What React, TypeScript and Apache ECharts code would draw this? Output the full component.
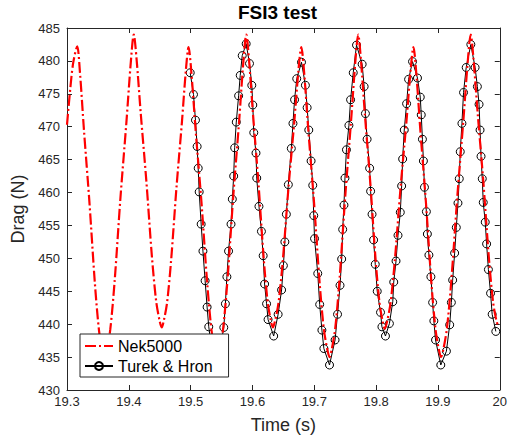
import React, { useEffect, useRef } from 'react';
import * as echarts from 'echarts';

// Nek5000 drag curve (time s, drag N)
const nekTime = [
  19.300, 19.305, 19.310, 19.3165, 19.3209, 19.3275, 19.3363, 19.3451, 19.3517, 19.3570,
  19.3605, 19.3643, 19.3700, 19.3771, 19.3866, 19.3961, 19.4033, 19.4080, 19.4125, 19.4193,
  19.4283, 19.4374, 19.4442, 19.4496, 19.4532, 19.4567, 19.4619, 19.4684, 19.4771, 19.4858,
  19.4923, 19.4966, 19.5012, 19.5082, 19.5175, 19.5268, 19.5337, 19.5393, 19.5430, 19.5468,
  19.5524, 19.5595, 19.5689, 19.5783, 19.5853, 19.5900, 19.5943, 19.6008, 19.6094, 19.6180,
  19.6244, 19.6296, 19.6330, 19.6367, 19.6422, 19.6491, 19.6583, 19.6675, 19.6744, 19.6790,
  19.6836, 19.6904, 19.6995, 19.7086, 19.7155, 19.7210, 19.7246, 19.7283, 19.7339, 19.7408,
  19.7501, 19.7594, 19.7664, 19.7710, 19.7753, 19.7818, 19.7904, 19.7990, 19.8054, 19.8106,
  19.8140, 19.8177, 19.8233, 19.8302, 19.8395, 19.8488, 19.8558, 19.8604, 19.8649, 19.8716,
  19.8805, 19.8894, 19.8961, 19.9014, 19.9050, 19.9088, 19.9146, 19.9218, 19.9314, 19.9410,
  19.9482, 19.9530, 19.9575, 19.9643, 19.9733, 19.9823, 19.9890, 19.9944, 19.9980,
];
const nekDrag = [
  470.3, 475.5, 479.7, 482.2, 478.3, 469.4, 458.5, 446.2, 439.1, 436.0,
  434.8, 436.0, 439.2, 446.6, 459.4, 470.7, 479.9, 484.0, 480.3, 472.0,
  461.8, 450.2, 443.5, 440.6, 439.5, 440.6, 443.3, 449.7, 460.8, 470.6,
  478.6, 482.1, 478.2, 469.3, 458.5, 446.2, 439.1, 436.0, 434.8, 436.0,
  439.2, 446.6, 459.4, 470.7, 479.9, 484.0, 480.3, 472.0, 461.8, 450.2,
  443.5, 440.6, 439.5, 440.6, 443.3, 449.7, 460.8, 470.6, 478.6, 482.1,
  478.2, 469.4, 458.6, 446.3, 439.2, 436.2, 435.0, 436.2, 439.4, 446.8,
  459.5, 470.8, 479.9, 484.0, 480.3, 471.9, 461.7, 450.0, 443.3, 440.4,
  439.3, 440.4, 443.2, 449.6, 460.7, 470.5, 478.6, 482.1, 478.2, 469.4,
  458.6, 446.3, 439.2, 436.2, 435.0, 436.2, 439.4, 446.8, 459.5, 470.8,
  479.9, 484.0, 480.3, 472.0, 461.8, 450.2, 443.5, 440.6, 439.6,
];

// Turek & Hron reference points (time s, drag N)
const turekTime = [
  19.4993, 19.5046, 19.5078, 19.5105, 19.5122, 19.5138, 19.5170, 19.5199, 19.5234, 19.5266,
  19.5293, 19.5335, 19.5415, 19.5490, 19.5536, 19.5562, 19.5586, 19.5613, 19.5653, 19.5674,
  19.5696, 19.5712, 19.5738, 19.5776, 19.5802, 19.5834, 19.5898, 19.5952, 19.5989, 19.6005,
  19.6021, 19.6057, 19.6069, 19.6105, 19.6145, 19.6173, 19.6196, 19.6228, 19.6252, 19.6343,
  19.6415, 19.6471, 19.6500, 19.6524, 19.6548, 19.6580, 19.6628, 19.6655, 19.6681, 19.6716,
  19.6793, 19.6856, 19.6884, 19.6911, 19.6948, 19.6975, 19.6991, 19.7004, 19.7056, 19.7087,
  19.7123, 19.7155, 19.7246, 19.7336, 19.7376, 19.7416, 19.7443, 19.7459, 19.7480, 19.7496,
  19.7520, 19.7560, 19.7587, 19.7630, 19.7683, 19.7774, 19.7806, 19.7827, 19.7854, 19.7895,
  19.7911, 19.7934, 19.7959, 19.7986, 19.8018, 19.8071, 19.8094, 19.8151, 19.8215, 19.8269,
  19.8285, 19.8322, 19.8354, 19.8391, 19.8413, 19.8429, 19.8455, 19.8493, 19.8525, 19.8589,
  19.8669, 19.8714, 19.8730, 19.8749, 19.8765, 19.8782, 19.8813, 19.8829, 19.8854, 19.8886,
  19.8914, 19.8934, 19.8961, 19.9046, 19.9137, 19.9190, 19.9217, 19.9238, 19.9270, 19.9297,
  19.9324, 19.9345, 19.9361, 19.9388, 19.9414, 19.9457, 19.9532, 19.9601, 19.9638, 19.9665,
  19.9681, 19.9697, 19.9717, 19.9733, 19.9765, 19.9787, 19.9816, 19.9851, 19.9877, 19.9936,
];
const turekDrag = [
  478.2, 474.9, 471.0, 467.0, 463.7, 460.1, 455.2, 451.1, 446.6, 442.6,
  439.6, 436.6, 433.9, 437.0, 439.5, 443.1, 447.2, 451.1, 455.2, 459.0,
  462.5, 466.8, 470.7, 474.7, 477.8, 480.8, 482.6, 479.6, 476.3, 473.3,
  469.1, 466.0, 462.2, 457.9, 454.1, 450.4, 446.1, 443.1, 440.7, 438.2,
  441.5, 445.2, 448.9, 452.5, 456.7, 461.2, 466.7, 470.5, 474.1, 477.3,
  479.8, 476.3, 472.9, 469.5, 464.8, 461.1, 456.5, 453.0, 447.7, 443.0,
  439.1, 436.3, 433.8, 437.6, 441.5, 445.9, 449.9, 454.4, 458.1, 462.2,
  466.5, 470.2, 474.1, 478.2, 482.4, 479.5, 476.1, 472.0, 468.1, 463.7,
  460.2, 456.7, 452.8, 449.1, 445.0, 441.8, 439.6, 438.2, 440.1, 443.4,
  446.4, 449.6, 453.5, 457.0, 461.0, 465.1, 469.5, 473.5, 477.2, 479.9,
  477.4, 474.5, 471.8, 468.1, 464.8, 460.8, 457.1, 453.7, 450.5, 447.2,
  443.3, 440.5, 437.6, 433.8, 435.9, 439.9, 443.3, 446.7, 450.8, 454.7,
  458.4, 462.1, 466.2, 470.5, 475.2, 479.0, 482.5, 479.0, 476.1, 473.4,
  469.5, 465.5, 462.1, 458.5, 455.5, 452.2, 448.3, 444.7, 441.5, 438.9,
];

const seriesNames = ['Nek5000', 'Turek & Hron'];
const titleText = 'FSI3 test';
const xName = 'Time (s)';
const yName = 'Drag (N)';

const FONT = '"Liberation Sans", Arial, Helvetica, sans-serif';
const AX = '#262626';

function fmtX(v: number) {
  const s = v.toFixed(1);
  return s.endsWith('.0') ? s.slice(0, -2) : s;
}

export default function App() {
  const ref = useRef<HTMLDivElement>(null);
  useEffect(() => {
    if (!ref.current) return;
    const chart = echarts.init(ref.current, null, { renderer: 'svg' });
    const nekData = nekTime.map((t, i) => [t, nekDrag[i]]);
    const turekData = turekTime.map((t, i) => [t, turekDrag[i]]);
    const baseX = {
      type: 'value',
      min: 19.3,
      max: 20,
      interval: 0.1,
      splitLine: { show: false },
      axisLine: { show: true, onZero: false, lineStyle: { color: AX, width: 1 } },
      axisTick: { show: true, inside: true, length: 5, lineStyle: { color: AX, width: 1 } },
    };
    const baseY = {
      type: 'value',
      min: 430,
      max: 485,
      interval: 5,
      splitLine: { show: false },
      axisLine: { show: true, onZero: false, lineStyle: { color: AX, width: 1 } },
      axisTick: { show: true, inside: true, length: 5, lineStyle: { color: AX, width: 1 } },
    };
    chart.setOption({
      animation: false,
      backgroundColor: '#ffffff',
      grid: { left: 67, right: 5, top: 28, bottom: 52, containLabel: false },
      graphic: [
        {
          type: 'text',
          x: 277.5,
          y: 3,
          style: {
            text: titleText,
            fontFamily: FONT,
            fontSize: 19,
            fontWeight: 'bold',
            fill: '#000',
            textAlign: 'center',
            textVerticalAlign: 'top',
          },
        },
      ],
      xAxis: [
        {
          ...baseX,
          position: 'bottom',
          name: xName,
          nameLocation: 'middle',
          nameGap: 26,
          nameTextStyle: { fontFamily: FONT, fontSize: 18, color: AX },
          axisLabel: { show: true, margin: 5, fontFamily: FONT, fontSize: 13, color: AX, formatter: fmtX },
        },
        {
          ...baseX,
          position: 'top',
          axisLabel: { show: false },
        },
      ],
      yAxis: [
        {
          ...baseY,
          position: 'left',
          name: yName,
          nameLocation: 'middle',
          nameGap: 33,
          nameTextStyle: { fontFamily: FONT, fontSize: 18, color: AX },
          axisLabel: { show: true, margin: 7, fontFamily: FONT, fontSize: 13, color: AX },
        },
        {
          ...baseY,
          position: 'right',
          axisLabel: { show: false },
        },
      ],
      legend: {
        data: [
          {
            name: seriesNames[0],
            itemStyle: { color: 'rgba(0,0,0,0)', borderColor: 'rgba(0,0,0,0)', borderWidth: 0 },
          },
          { name: seriesNames[1] },
        ],
        orient: 'vertical',
        left: 80,
        top: 334,
        backgroundColor: '#ffffff',
        borderColor: AX,
        borderWidth: 1,
        borderRadius: 0,
        padding: [4, 16, 3, 4],
        itemGap: 4,
        itemWidth: 28,
        itemHeight: 10,
        textStyle: { fontFamily: FONT, fontSize: 16, color: '#000' },
        z: 10,
      },
      series: [
        {
          name: seriesNames[1],
          type: 'line',
          data: turekData,
          symbol: 'circle',
          symbolSize: 8,
          showSymbol: true,
          itemStyle: { color: 'rgba(0,0,0,0)', borderColor: '#000', borderWidth: 1 },
          lineStyle: { color: '#000', width: 1 },
          emphasis: { disabled: true },
          z: 2,
        },
        {
          name: seriesNames[0],
          type: 'line',
          data: nekData,
          symbol: 'none',
          showSymbol: false,
          smooth: 0.3,
          itemStyle: { color: '#ff0000' },
          lineStyle: { color: '#ff0000', width: 2.2, type: [11, 3, 2, 3] },
          emphasis: { disabled: true },
          z: 3,
        },
      ],
    });
    return () => chart.dispose();
  }, []);
  return (
    <div
      ref={ref}
      style={{ position: 'fixed', left: 0, top: 0, width: 510, height: 442, background: '#fff' }}
    />
  );
}
